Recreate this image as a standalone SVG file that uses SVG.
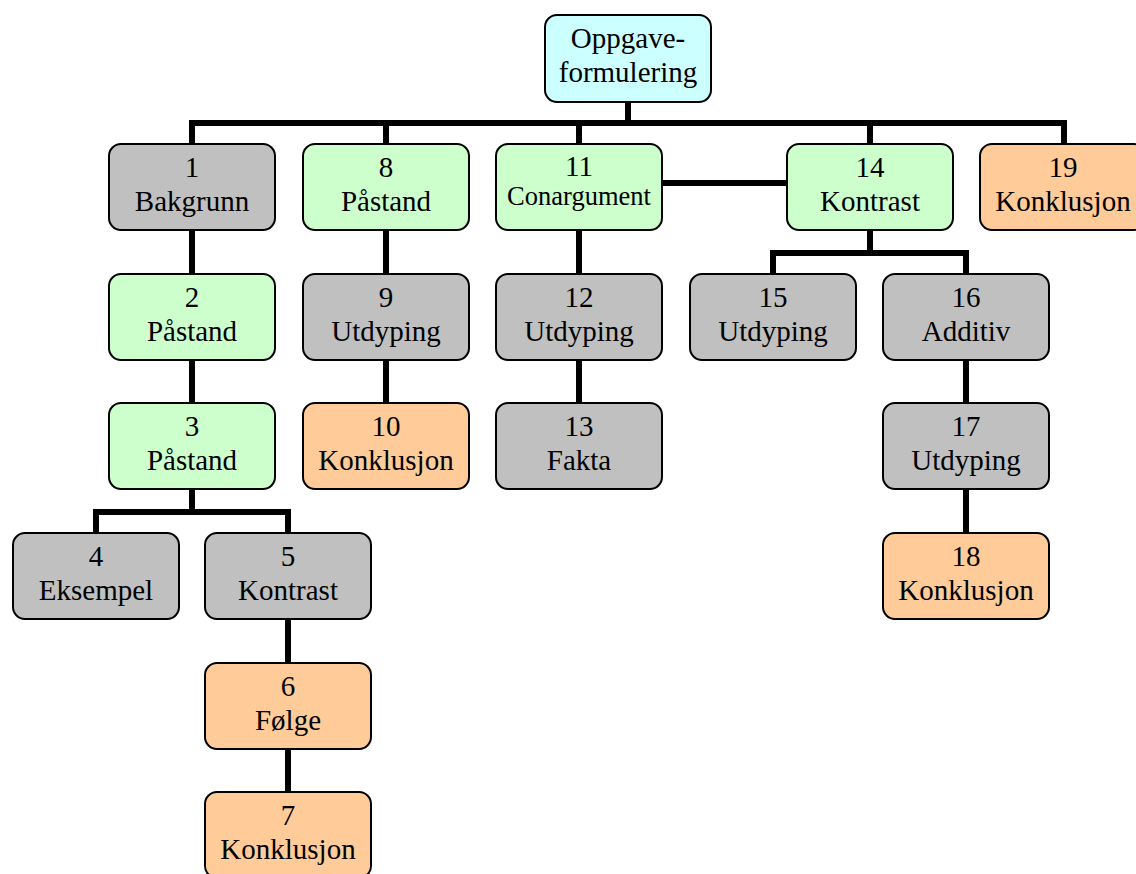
<svg xmlns="http://www.w3.org/2000/svg" width="1136" height="874" viewBox="0 0 1136 874">
  <style>
    .box { stroke: #000; stroke-width: 2; }
    .task { fill: #CCFFFF; }
    .grey { fill: #C0C0C0; }
    .green { fill: #CCFFCC; }
    .orange { fill: #FFCC99; }
    text { font-family: "Liberation Serif", "Times New Roman", serif; font-size: 29px; fill: #000; text-anchor: middle; }
    text.small { font-size: 26.5px; }
    #connectors path { fill: none; stroke: #000; stroke-width: 6; stroke-linejoin: miter; stroke-linecap: butt; }
  </style>
  <rect width="1136" height="874" fill="#fff"/>

  <g id="connectors">
    <!-- main bus under the task node -->
    <path d="M628 102 V123"/>
    <path d="M192 144 V123 H1064 V144"/>
    <path d="M386 123 V144"/>
    <path d="M579 123 V144"/>
    <path d="M870 123 V144"/>
    <!-- 11 to 14 -->
    <path d="M663 183 H787"/>
    <!-- column 1 -->
    <path d="M192 230 V274"/>
    <path d="M192 360 V403"/>
    <path d="M192 489 V512"/>
    <path d="M96 533 V512 H288 V533"/>
    <path d="M288 619 V663"/>
    <path d="M288 749 V792"/>
    <!-- column 8 -->
    <path d="M386 230 V274"/>
    <path d="M386 360 V403"/>
    <!-- column 11 -->
    <path d="M579 230 V274"/>
    <path d="M579 360 V403"/>
    <!-- column 14 -->
    <path d="M870 230 V253"/>
    <path d="M773 274 V253 H966 V274"/>
    <path d="M966 360 V403"/>
    <path d="M966 489 V533"/>
  </g>

  <g id="task">
    <rect class="box task" x="545" y="15" width="166" height="87" rx="12"/>
    <text x="628" y="48">Oppgave-</text>
    <text x="628" y="82">formulering</text>
  </g>

  <g id="n1">
    <rect class="box grey" x="109" y="144" width="166" height="86" rx="12"/>
    <text x="192" y="177">1</text>
    <text x="192" y="211">Bakgrunn</text>
  </g>
  <g id="n2">
    <rect class="box green" x="109" y="274" width="166" height="86" rx="12"/>
    <text x="192" y="307">2</text>
    <text x="192" y="341">Påstand</text>
  </g>
  <g id="n3">
    <rect class="box green" x="109" y="403" width="166" height="86" rx="12"/>
    <text x="192" y="436">3</text>
    <text x="192" y="470">Påstand</text>
  </g>
  <g id="n4">
    <rect class="box grey" x="13" y="533" width="166" height="86" rx="12"/>
    <text x="96" y="566">4</text>
    <text x="96" y="600">Eksempel</text>
  </g>
  <g id="n5">
    <rect class="box grey" x="205" y="533" width="166" height="86" rx="12"/>
    <text x="288" y="566">5</text>
    <text x="288" y="600">Kontrast</text>
  </g>
  <g id="n6">
    <rect class="box orange" x="205" y="663" width="166" height="86" rx="12"/>
    <text x="288" y="696">6</text>
    <text x="288" y="730">Følge</text>
  </g>
  <g id="n7">
    <rect class="box orange" x="205" y="792" width="166" height="86" rx="12"/>
    <text x="288" y="825">7</text>
    <text x="288" y="859">Konklusjon</text>
  </g>

  <g id="n8">
    <rect class="box green" x="303" y="144" width="166" height="86" rx="12"/>
    <text x="386" y="177">8</text>
    <text x="386" y="211">Påstand</text>
  </g>
  <g id="n9">
    <rect class="box grey" x="303" y="274" width="166" height="86" rx="12"/>
    <text x="386" y="307">9</text>
    <text x="386" y="341">Utdyping</text>
  </g>
  <g id="n10">
    <rect class="box orange" x="303" y="403" width="166" height="86" rx="12"/>
    <text x="386" y="436">10</text>
    <text x="386" y="470">Konklusjon</text>
  </g>

  <g id="n11">
    <rect class="box green" x="496" y="144" width="166" height="86" rx="12"/>
    <text x="579" y="176">11</text>
    <text class="small" x="579" y="205">Conargument</text>
  </g>
  <g id="n12">
    <rect class="box grey" x="496" y="274" width="166" height="86" rx="12"/>
    <text x="579" y="307">12</text>
    <text x="579" y="341">Utdyping</text>
  </g>
  <g id="n13">
    <rect class="box grey" x="496" y="403" width="166" height="86" rx="12"/>
    <text x="579" y="436">13</text>
    <text x="579" y="470">Fakta</text>
  </g>

  <g id="n14">
    <rect class="box green" x="787" y="144" width="166" height="86" rx="12"/>
    <text x="870" y="177">14</text>
    <text x="870" y="211">Kontrast</text>
  </g>
  <g id="n15">
    <rect class="box grey" x="690" y="274" width="166" height="86" rx="12"/>
    <text x="773" y="307">15</text>
    <text x="773" y="341">Utdyping</text>
  </g>
  <g id="n16">
    <rect class="box grey" x="883" y="274" width="166" height="86" rx="12"/>
    <text x="966" y="307">16</text>
    <text x="966" y="341">Additiv</text>
  </g>
  <g id="n17">
    <rect class="box grey" x="883" y="403" width="166" height="86" rx="12"/>
    <text x="966" y="436">17</text>
    <text x="966" y="470">Utdyping</text>
  </g>
  <g id="n18">
    <rect class="box orange" x="883" y="533" width="166" height="86" rx="12"/>
    <text x="966" y="566">18</text>
    <text x="966" y="600">Konklusjon</text>
  </g>

  <g id="n19">
    <rect class="box orange" x="980" y="144" width="166" height="86" rx="12"/>
    <text x="1063" y="177">19</text>
    <text x="1063" y="211">Konklusjon</text>
  </g>
</svg>
